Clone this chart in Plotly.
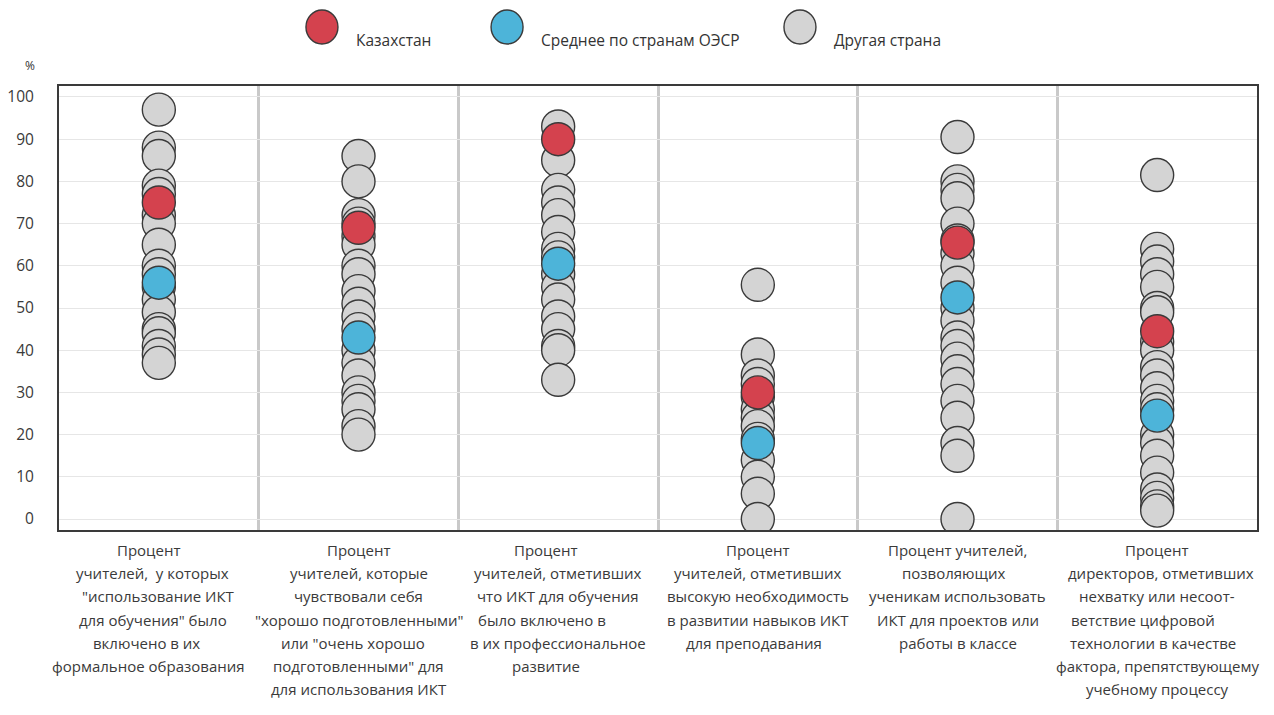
import plotly.graph_objects as go

# данные по шести показателям (значения в %)
categories = [
    ["Процент", "учителей,  у которых", "\"использование ИКТ", "для обучения\" было",
     "включено в их", "формальное образования"],
    ["Процент", "учителей, которые", "чувствовали себя", "\"хорошо подготовленными\"",
     "или \"очень хорошо", "подготовленными\" для", "для использования ИКТ"],
    ["Процент", "учителей, отметивших", "что ИКТ для обучения", "было включено в",
     "в их профессиональное", "развитие"],
    ["Процент", "учителей, отметивших", "высокую необходимость", "в развитии навыков ИКТ",
     "для преподавания"],
    ["Процент учителей,", "позволяющих", "ученикам использовать", "ИКТ для проектов или",
     "работы в классе"],
    ["Процент", "директоров, отметивших", "нехватку или несоот-", "ветствие цифровой",
     "технологии в качестве", "фактора, препятствующему", "учебному процессу"],
]

other_1 = [97, 88, 86, 79, 77, 72, 70, 65, 60, 58, 55, 52, 49, 45, 44, 41, 39, 37]
other_2 = [86, 80, 72, 70, 67, 65, 60, 58, 54, 51, 48, 45, 40, 37, 34, 30, 28, 26, 22, 20]
other_3 = [93, 85, 78, 75, 72, 68, 64, 62, 58, 55, 52, 48, 45, 41, 40, 33]
other_4 = [55.5, 39, 34, 32, 29, 26, 24, 22, 19, 14, 10, 6, 0]
other_5 = [90.5, 80, 78, 76, 70, 66, 63, 60, 56, 50, 47, 43, 41, 38, 35, 32, 28, 24, 18, 15, 0]
other_6 = [81.5, 64, 61, 58, 55, 50, 49, 42, 40, 36, 34, 31, 28, 26, 20, 18, 15, 11, 7, 5, 3, 2]
others = [other_1, other_2, other_3, other_4, other_5, other_6]

kazakhstan = [75, 69, 90, 30, 65.5, 44.5]
oecd = [56, 43, 60.5, 18, 52.5, 24.5]

series_names = ["Казахстан", "Среднее по странам ОЭСР", "Другая страна"]
colors = ["#d4424e", "#4db4d9", "#d4d4d4"]

FONT = "Open Sans"
outline = dict(color="#3a3a3a", width=1.4)

# небольшие сдвиги строк подписей (как в исходной вёрстке), px
label_shift = {
    (0, 0): -10, (0, 1): -6, (0, 3): -6, (0, 4): -12, (0, 5): -10,
    (1, 4): -6,
    (2, 0): -12, (2, 3): -16, (2, 5): -12,
    (3, 4): -4,
    (4, 1): -4,
    (5, 1): 4, (5, 3): -14, (5, 4): -4,
}

fig = go.Figure()

ox, oy = [], []
for i, vals in enumerate(others):
    ox += [i] * len(vals)
    oy += vals
fig.add_trace(go.Scatter(x=ox, y=oy, mode="markers", name=series_names[2], showlegend=False,
                         marker=dict(size=33, color=colors[2], line=outline)))
fig.add_trace(go.Scatter(x=list(range(6)), y=oecd, mode="markers", name=series_names[1],
                         showlegend=False, marker=dict(size=33, color=colors[1], line=outline)))
fig.add_trace(go.Scatter(x=list(range(6)), y=kazakhstan, mode="markers", name=series_names[0],
                         showlegend=False, marker=dict(size=33, color=colors[0], line=outline)))

# подписи категорий под графиком
for i, lines in enumerate(categories):
    for j, line in enumerate(lines):
        fig.add_annotation(x=i, y=0, xref="x", yref="paper", text=line, showarrow=False,
                           yanchor="middle", yshift=-20 - j * 23.2,
                           xshift=label_shift.get((i, j), 0),
                           font=dict(family=FONT, size=15, color="#3a3a3a"))

# легенда сверху
leg_x = [0.2195, 0.374, 0.6185]
for k in range(3):
    fig.add_shape(type="circle", xref="paper", yref="paper", xsizemode="pixel", ysizemode="pixel",
                  xanchor=leg_x[k], yanchor=1.133, x0=-16, x1=16, y0=-17, y1=17,
                  fillcolor=colors[k], line=dict(color="#3a3a3a", width=1.4))
    fig.add_annotation(x=leg_x[k], y=1.133, xref="paper", yref="paper", text=series_names[k],
                       showarrow=False, xanchor="left", xshift=32,
                       font=dict(family=FONT, size=15.5, color="#333"))

fig.add_annotation(x=0, y=1, xref="paper", yref="paper", text="%", showarrow=False,
                   xanchor="center", yanchor="middle", xshift=-29, yshift=21,
                   font=dict(family=FONT, size=12, color="#333"))

fig.update_xaxes(range=[-0.5, 5.5], tickvals=[0.5, 1.5, 2.5, 3.5, 4.5], showticklabels=False,
                 showgrid=True, gridcolor="#c9c9c9", gridwidth=3, zeroline=False,
                 showline=True, mirror=True, linecolor="#3a3a3a", linewidth=2, automargin=False)
fig.update_yaxes(range=[-2.6, 102.6], tickvals=list(range(0, 101, 10)), showgrid=True,
                 gridcolor="#e6e6e6", gridwidth=1, zeroline=False, ticks="",
                 ticklabelstandoff=20, automargin=False,
                 tickfont=dict(family=FONT, size=15.5, color="#3a3a3a"),
                 showline=True, mirror=True, linecolor="#3a3a3a", linewidth=2)

# страница имеет отступ 8px, поэтому фигура чуть меньше окна
fig.update_layout(width=1258, height=699, plot_bgcolor="white", paper_bgcolor="white",
                  margin=dict(l=51, r=9, t=78, b=177, autoexpand=False), showlegend=False,
                  font=dict(family=FONT))

fig.write_html("out.html")
